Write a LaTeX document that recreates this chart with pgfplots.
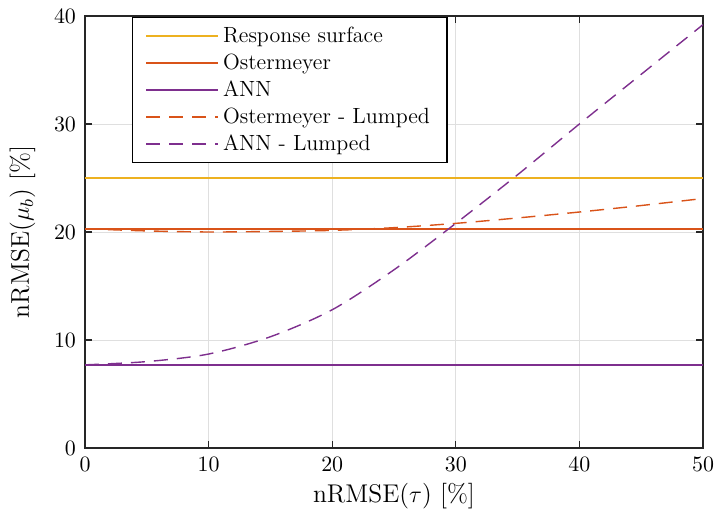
\documentclass[border=0pt]{standalone}
\usepackage{pgfplots}
\pgfplotsset{compat=1.18}
\definecolor{cY}{rgb}{0.929,0.694,0.125}
\definecolor{cO}{rgb}{0.85,0.325,0.098}
\definecolor{cP}{rgb}{0.494,0.184,0.556}
\begin{document}
\begin{tikzpicture}
\begin{axis}[
  scale only axis,
  width=309pt, height=216pt,
  xmin=0, xmax=50, ymin=0, ymax=40,
  xtick={0,10,...,50}, ytick={0,10,...,40},
  tick align=inside, tick pos=both,
  major tick length=3.5pt,
  grid=major,
  grid style={gray!25, line width=0.4pt},
  axis line style={black!85, line width=0.6pt},
  tick style={black!85, line width=0.6pt},
  ticklabel style={font=\fontsize{11.2}{13}\selectfont},
  xticklabel style={yshift=-1pt},
  yticklabel style={xshift=-1pt},
  xlabel={nRMSE($\tau$) [\%]},
  ylabel={nRMSE($\mu_b$) [\%]},
  label style={font=\fontsize{12.8}{15}\selectfont},
  xlabel style={yshift=1pt},
  ylabel style={yshift=2.5pt},
  legend style={at={(0.076,0.997)}, anchor=north west, draw=black, line width=0.6pt,
    font=\fontsize{11}{13}\selectfont, row sep=0.2pt, inner xsep=6.5pt, inner ysep=2.5pt},
  legend cell align=left,
  legend image code/.code={\draw[#1] (0pt,0pt) -- (36pt,0pt);},
]
\addplot[cY, line width=0.75pt] coordinates {(0,25) (50,25)};
\addlegendentry{Response surface}
\addplot[cO, line width=0.75pt] coordinates {(0,20.3) (50,20.3)};
\addlegendentry{Ostermeyer}
\addplot[cP, line width=0.75pt] coordinates {(0,7.7) (50,7.7)};
\addlegendentry{ANN}
\addplot[cO, line width=0.7pt, dash pattern=on 7pt off 4.5pt, smooth] coordinates {
(0,20.3) (5,20.1) (10,20.0) (15,20.05) (20,20.15) (25,20.4) (30,20.8) (35,21.3) (40,21.85) (45,22.45) (50,23.1)};
\addlegendentry{Ostermeyer - Lumped}
\addplot[cP, line width=0.7pt, dash pattern=on 7pt off 4.5pt, smooth] coordinates {
(0,7.7) (5,8.0) (10,8.7) (15,10.3) (20,12.8) (25,16.5) (30,20.8) (35,25.3) (40,30.0) (45,34.6) (50,39.2)};
\addlegendentry{ANN - Lumped}
\end{axis}
\pgfresetboundingbox
\path[use as bounding box] ([xshift=-42.5pt,yshift=-36.5pt]current axis.south west) rectangle ([xshift=6pt,yshift=8pt]current axis.north east);
\end{tikzpicture}
\end{document}
